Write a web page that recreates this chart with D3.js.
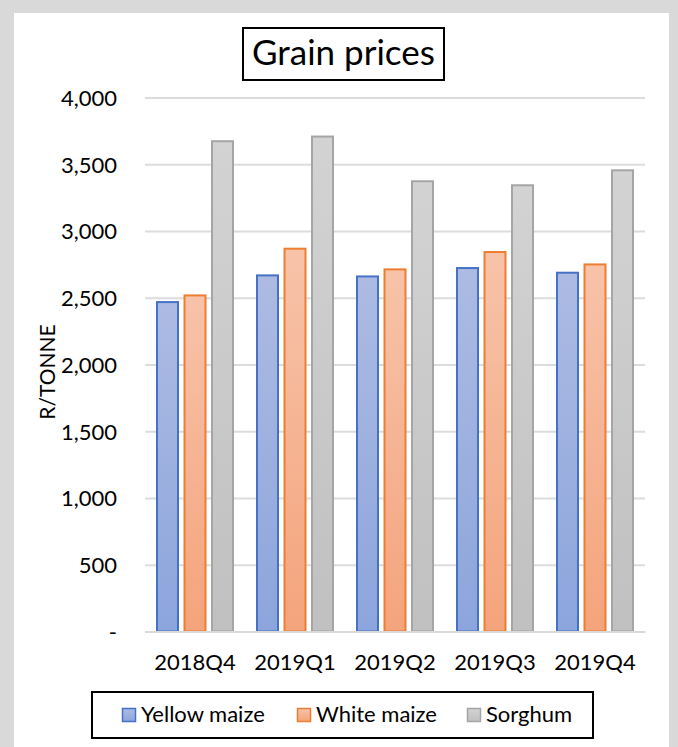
<!DOCTYPE html>
<html>
<head>
<meta charset="utf-8">
<script src="https://cdn.jsdelivr.net/npm/d3@7"></script>
<style>
  html, body { margin: 0; padding: 0; background: #d9d9d9; }
  svg { display: block; }
  text { font-family: Lato, "Open Sans", sans-serif; fill: #000; }
</style>
</head>
<body>
<script>
// Quarterly grain prices, rand per tonne
const quarters = ["2018Q4", "2019Q1", "2019Q2", "2019Q3", "2019Q4"];
const seriesNames = ["Yellow maize", "White maize", "Sorghum"];
const yellowMaize = [2475, 2675, 2667, 2730, 2695];
const whiteMaize = [2525, 2875, 2720, 2850, 2757];
const sorghum = [3680, 3715, 3380, 3350, 3462];
const yTicks = [0, 500, 1000, 1500, 2000, 2500, 3000, 3500, 4000];
const yLabel = "R/TONNE";
const titleText = "Grain prices";

const seriesValues = [yellowMaize, whiteMaize, sorghum];
const palette = [
  { stroke: "#4472c4", top: "#adbbe3", bottom: "#8ca5dc" },
  { stroke: "#ed7d31", top: "#f7c3a9", bottom: "#f4a47c" },
  { stroke: "#a5a5a5", top: "#d3d3d3", bottom: "#c0c0c0" }
];

const W = 678, H = 747;
const svg = d3.select("body").append("svg").attr("width", W).attr("height", H);

// white chart panel
svg.append("rect").attr("x", 14).attr("y", 13).attr("width", 655).attr("height", H - 13)
  .attr("fill", "#fff");

const defs = svg.append("defs");
palette.forEach((p, i) => {
  const g = defs.append("linearGradient").attr("id", "grad" + i)
    .attr("x1", 0).attr("y1", 0).attr("x2", 0).attr("y2", 1);
  g.append("stop").attr("offset", "0%").attr("stop-color", p.top);
  g.append("stop").attr("offset", "100%").attr("stop-color", p.bottom);
});

const x0 = d3.scaleBand().domain(quarters).range([145, 645])
  .paddingInner(0.22).paddingOuter(0.11);
const x1 = d3.scaleBand().domain(seriesNames).range([0, x0.bandwidth()])
  .paddingInner(0.164).paddingOuter(0);
const y = d3.scaleLinear().domain([0, 4000]).range([631.5, 97.5]);

// gridlines
const grid = svg.append("g").attr("transform", "translate(145,0)")
  .call(d3.axisLeft(y).tickValues(yTicks).tickSize(-500).tickFormat(""));
grid.select(".domain").remove();
grid.selectAll("line").attr("stroke", "#dcdcdc").attr("stroke-width", 2);

// y tick labels
const fmt = d3.format(",");
const yAxis = svg.append("g").attr("transform", "translate(117,0)")
  .call(d3.axisLeft(y).tickValues(yTicks).tickSize(0).tickPadding(0)
    .tickFormat(d => d === 0 ? "-" : fmt(d)));
yAxis.select(".domain").remove();
yAxis.selectAll("text").attr("font-size", 22).attr("font-family", "Lato")
  .attr("dy", "0.36em");

// bars
const groups = svg.append("g").selectAll("g").data(quarters).join("g")
  .attr("transform", d => `translate(${x0(d)},0)`);
groups.selectAll("rect")
  .data((q, qi) => seriesNames.map((s, si) => ({ s, si, v: seriesValues[si][qi] })))
  .join("rect")
  .attr("x", d => x1(d.s) + 1)
  .attr("width", x1.bandwidth() - 2)
  .attr("y", d => y(d.v) + 1)
  .attr("height", d => y(0) - y(d.v) - 1)
  .attr("fill", d => `url(#grad${d.si})`)
  .attr("stroke", d => palette[d.si].stroke)
  .attr("stroke-width", 2);

// x axis baseline and category labels
const xAxis = svg.append("g").attr("transform", "translate(0,631.5)")
  .call(d3.axisBottom(x0).tickSize(0).tickPadding(0));
xAxis.select(".domain").attr("stroke", "#d9d9d9").attr("stroke-width", 2);
xAxis.selectAll("text").attr("font-size", 22).attr("font-family", "Lato")
  .attr("y", 38).attr("dy", 0);

// y axis title
svg.append("text")
  .attr("transform", "translate(55,372) rotate(-90)")
  .attr("text-anchor", "middle")
  .attr("font-size", 21)
  .text(yLabel);

// title in a box
svg.append("rect").attr("x", 243).attr("y", 28).attr("width", 201).attr("height", 52)
  .attr("fill", "#fff").attr("stroke", "#000").attr("stroke-width", 2);
svg.append("text").attr("x", 343.5).attr("y", 65).attr("text-anchor", "middle")
  .attr("font-size", 35).text(titleText);

// legend
svg.append("rect").attr("x", 92).attr("y", 692).attr("width", 501).attr("height", 46)
  .attr("fill", "#fff").attr("stroke", "#000").attr("stroke-width", 2);
const legendX = [122, 297, 467];
const legend = svg.append("g").selectAll("g").data(seriesNames).join("g")
  .attr("transform", (d, i) => `translate(${legendX[i]},708)`);
legend.append("rect").attr("x", 0.5).attr("y", 0.5).attr("width", 13).attr("height", 13)
  .attr("fill", (d, i) => `url(#grad${i})`)
  .attr("stroke", (d, i) => palette[i].stroke).attr("stroke-width", 1.5);
legend.append("text").attr("x", 19).attr("y", 14).attr("font-size", 22).text(d => d);
</script>
</body>
</html>
